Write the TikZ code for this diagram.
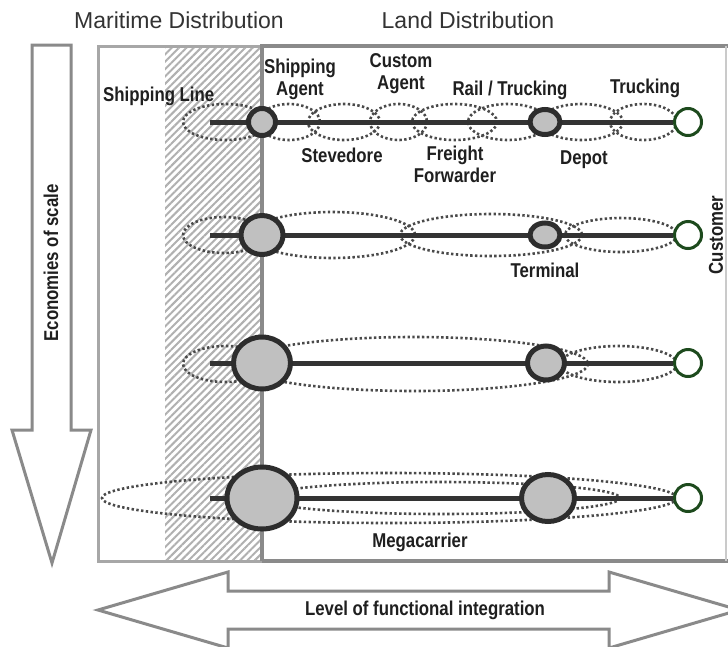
\documentclass[tikz,border=0pt]{standalone}
\usepackage{fontspec}
\setmainfont{Liberation Sans}
\newfontfamily\narrowbold[FakeStretch=0.84]{Liberation Sans Bold}
\usetikzlibrary{shapes.geometric,patterns.meta,backgrounds}

\definecolor{hubgray}{HTML}{C0C0C0}
\definecolor{hubline}{HTML}{2D2D2D}
\definecolor{routeline}{HTML}{333333}
\definecolor{dotgray}{HTML}{4A4A4A}
\definecolor{custgreen}{HTML}{1D4A1D}
\definecolor{framegray}{HTML}{8A8A8A}
\definecolor{hatchgray}{HTML}{B0B0B0}

\tikzset{
  hub/.style={ellipse, draw=hubline, fill=hubgray, line width=5pt, inner sep=0pt},
  client/.style={circle, draw=custgreen, fill=white, line width=3pt, minimum size=27pt, inner sep=0pt},
  route/.style={draw=routeline, line width=5pt},
  dotring/.style={draw=dotgray, line width=2.6pt, dash pattern=on 2.4pt off 2.4pt},
  lbl/.style={font=\narrowbold\fontsize{20}{22}\selectfont, text=black!88, align=center, inner sep=0pt},
  hdr/.style={font=\fontsize{23}{26}\selectfont, text=black!80, inner sep=0pt},
  bigarrow/.style={draw=framegray, line width=3pt, fill=white, line join=miter},
}

\begin{document}
\begin{tikzpicture}[x=1pt,y=-1pt]
\clip (0,0) rectangle (728,646);

% one chain per row: port hub, inland hub, customer
\foreach \row/\y/\pw/\ph/\ix/\iw/\ih in {1/122/27/27/545/30/25, 2/235/42/39/545/30/24,
                                          3/363/57/52/546/37/34, 4/498/70/62/548/53/47} {
  \coordinate (start\row) at (210,\y);
  \node[hub, minimum width=\pw pt, minimum height=\ph pt] (port\row) at (262,\y) {};
  \node[hub, minimum width=\iw pt, minimum height=\ih pt] (inland\row) at (\ix,\y) {};
  \node[client] (cust\row) at (688,\y) {};
}

% actors
\node[lbl, anchor=base west] (shipline) at (103,101) {Shipping Line};
\node[lbl] (shipagent) at (300,79) {Shipping\\Agent};
\node[lbl] (customagent) at (401,74) {Custom\\Agent};
\node[lbl, anchor=base] (railtruck) at (510,95) {Rail / Trucking};
\node[lbl, anchor=base] (trucking) at (645,93) {Trucking};
\node[lbl, anchor=base] (stevedore) at (342,162) {Stevedore};
\node[lbl] (forwarder) at (455,164) {Freight\\Forwarder};
\node[lbl, anchor=base] (depot) at (584,164) {Depot};
\node[lbl, anchor=base] (terminal) at (545,277) {Terminal};
\node[lbl, anchor=base] (megacarrier) at (420,547) {Megacarrier};
\node[lbl, rotate=90] (customer) at (716,235) {Customer};

\node[hdr] (maritime) at (179,20) {Maritime Distribution};
\node[hdr] (land) at (468,20) {Land Distribution};

% axes
\draw[bigarrow] (32,45) -- (71,45) -- (71,430) -- (91,430) -- (52,563) -- (12,430) -- (32,430) -- cycle;
\node[lbl, rotate=90] (scale) at (51,263) {Economies of scale};

\draw[bigarrow] (98,610) -- (228,572) -- (228,591) -- (609,591) -- (609,572) -- (739,610)
  -- (609,648) -- (609,629) -- (228,629) -- (228,648) -- cycle;
\node[lbl] (integration) at (425,610) {Level of functional integration};

\begin{scope}[on background layer]
  \fill[white] (0,0) rectangle (728,646);
  % maritime side, hatched
  \fill[pattern={Lines[angle=45, distance=5.2pt, line width=2pt]}, pattern color=hatchgray]
    (165,48) rectangle (261,559);
  \draw[framegray!75, line width=3pt] (98,46) rectangle (262,561);
  \draw[framegray, line width=4pt] (262,561) -- (262,46) -- (730,46);
  \draw[framegray, line width=4pt] (262,561) -- (730,561);
  \draw[framegray!45, line width=1.5pt] (726,46) -- (726,561);

  % who handles which leg
  \foreach \a/\b/\r in {183/268/18, 258/320/18, 308/380/18, 370/427/18,
                        412/497/18, 468/548/18, 540/623/18, 610/677/18}
    \draw[dotring] ({(\a+\b)/2},122) ellipse [x radius={(\b-\a)/2}, y radius=\r];
  \foreach \a/\b/\r in {183/265/18, 250/415/23, 400/582/21, 565/677/17}
    \draw[dotring] ({(\a+\b)/2},235) ellipse [x radius={(\b-\a)/2}, y radius=\r];
  \foreach \a/\b/\r in {183/268/18, 240/588/27, 560/677/18}
    \draw[dotring] ({(\a+\b)/2},364) ellipse [x radius={(\b-\a)/2}, y radius=\r];
  \foreach \a/\b/\r in {102/677/25, 262/620/16}
    \draw[dotring] ({(\a+\b)/2},498) ellipse [x radius={(\b-\a)/2}, y radius=\r];

  \foreach \row in {1,...,4}
    \draw[route] (start\row) -- (cust\row);
\end{scope}
\end{tikzpicture}
\end{document}
